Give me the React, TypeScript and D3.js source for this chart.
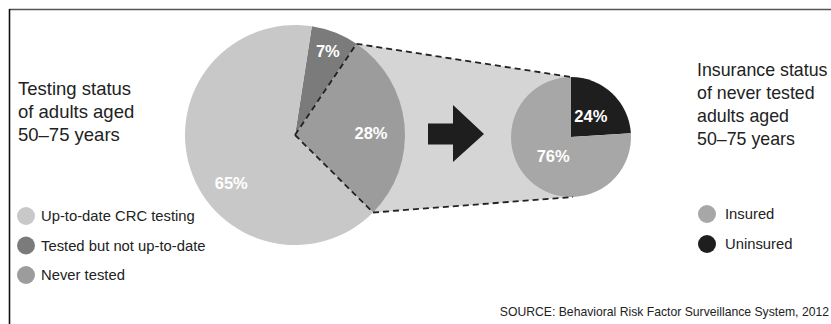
import React from "react";
import * as d3 from "d3";

const testingLabels = ["Tested but not up-to-date", "Never tested", "Up-to-date CRC testing"];
const testingValues = [7, 28, 65];
const testingColors = ["#7b7b7b", "#9c9c9c", "#c8c8c8"];
const testingLegendOrder = ["Up-to-date CRC testing", "Tested but not up-to-date", "Never tested"];

const insuranceLabels = ["Uninsured", "Insured"];
const insuranceValues = [24, 76];
const insuranceColors = ["#1e1e1e", "#a7a7a7"];
const insuranceLegendOrder = ["Insured", "Uninsured"];

const leftTitle = ["Testing status", "of adults aged", "50–75 years"];
const rightTitle = ["Insurance status", "of never tested", "adults aged", "50–75 years"];
const sourceText = "SOURCE: Behavioral Risk Factor Surveillance System, 2012";

const FONT = "'Liberation Sans', Arial, sans-serif";

export default function App() {
  const W = 831, H = 324;
  const deg = Math.PI / 180;

  // Big pie
  const bc = { x: 295, y: 135 };
  const bR = 110;
  const bigPie = d3.pie<number>().sort(null).startAngle(8.8 * deg).endAngle(8.8 * deg + 2 * Math.PI);
  const bigArcs = bigPie(testingValues);
  const bigArc = d3.arc<d3.PieArcDatum<number>>().innerRadius(0).outerRadius(bR);
  const bigLabelR = [90, 76, 80];
  const bigLabelShift = [0, 4, -19];

  // Small pie
  const sc = { x: 571, y: 137 };
  const sR = 60;
  const smallPie = d3.pie<number>().sort(null);
  const smallArcs = smallPie(insuranceValues);
  const smallArc = d3.arc<d3.PieArcDatum<number>>().innerRadius(0).outerRadius(sR);
  const smallLabelR = [29, 26];

  // Connector points from the "Never tested" slice
  const never = bigArcs[1];
  const pt = (c: { x: number; y: number }, r: number, a: number) => [c.x + r * Math.sin(a), c.y - r * Math.cos(a)];
  const pTop = pt(bc, bR, never.startAngle);
  const pBot = pt(bc, bR, never.endAngle);
  const sTop = [sc.x, sc.y - sR];
  const sBot = [sc.x + 2, sc.y + sR];
  const poly = [[bc.x, bc.y], pTop, sTop, sBot, pBot];

  const dash = "6,4";

  // Arrow
  const ax = 428, ay = 134;
  const arrowPath = `M${ax},${ay - 10.5} L${ax + 25},${ay - 10.5} L${ax + 25},${ay - 29} L${ax + 56},${ay} L${ax + 25},${ay + 28} L${ax + 25},${ay + 10.5} L${ax},${ay + 10.5} Z`;

  return (
    <svg width={W} height={H} style={{ position: "absolute", left: 0, top: 0, background: "#fff" }} fontFamily={FONT}>
      <rect x={0} y={0} width={W} height={H} fill="#fff" />
      {/* frame */}
      <line x1={9} y1={9.5} x2={W} y2={9.5} stroke="#555" strokeWidth={1.6} />
      <line x1={9.5} y1={9} x2={9.5} y2={H} stroke="#111" strokeWidth={1.6} />

      {/* connector */}
      <polygon points={poly.map((p) => p.join(",")).join(" ")} fill="#d5d5d5" />

      {/* big pie */}
      <g transform={`translate(${bc.x},${bc.y})`}>
        {bigArcs.map((a, i) => (
          <path key={i} d={bigArc(a) || ""} fill={testingColors[i]} />
        ))}
      </g>

      {/* small pie */}
      <g transform={`translate(${sc.x},${sc.y})`}>
        {smallArcs.map((a, i) => (
          <path key={i} d={smallArc(a) || ""} fill={insuranceColors[i]} />
        ))}
      </g>

      {/* dashed lines */}
      <g stroke="#222" strokeWidth={1.8} strokeDasharray={dash} fill="none">
        <line x1={bc.x} y1={bc.y} x2={pTop[0]} y2={pTop[1]} />
        <line x1={bc.x} y1={bc.y} x2={pBot[0]} y2={pBot[1]} />
        <line x1={pTop[0]} y1={pTop[1]} x2={sTop[0]} y2={sTop[1]} />
        <line x1={pBot[0]} y1={pBot[1]} x2={sBot[0]} y2={sBot[1]} />
      </g>

      {/* arrow */}
      <path d={arrowPath} fill="#1e1e1e" />

      {/* big pie labels */}
      {bigArcs.map((a, i) => {
        const mid = (a.startAngle + a.endAngle) / 2 + bigLabelShift[i] * deg;
        const [x, y] = pt(bc, bigLabelR[i], mid);
        return (
          <text key={i} x={x} y={y} textAnchor="middle" dominantBaseline="central" fill="#fff" fontWeight="bold" fontSize={16.5}>
            {testingValues[i]}%
          </text>
        );
      })}
      {smallArcs.map((a, i) => {
        const mid = (a.startAngle + a.endAngle) / 2;
        const [x, y] = pt(sc, smallLabelR[i], mid);
        return (
          <text key={i} x={x} y={y} textAnchor="middle" dominantBaseline="central" fill="#fff" fontWeight="bold" fontSize={16.5}>
            {insuranceValues[i]}%
          </text>
        );
      })}

      {/* titles */}
      {leftTitle.map((t, i) => (
        <text key={i} x={18} y={88 + i * 23} dominantBaseline="central" fontSize={18.5} fill="#222">{t}</text>
      ))}
      {rightTitle.map((t, i) => (
        <text key={i} x={697} y={70 + i * 23} dominantBaseline="central" fontSize={17.8} fill="#222">{t}</text>
      ))}

      {/* legends */}
      {testingLegendOrder.map((name, i) => (
        <g key={name}>
          <circle cx={26} cy={216 + i * 29.5} r={9} fill={testingColors[testingLabels.indexOf(name)]} />
          <text x={41} y={216 + i * 29.5} dominantBaseline="central" fontSize={14.8} fill="#222">{name}</text>
        </g>
      ))}
      {insuranceLegendOrder.map((name, i) => (
        <g key={name}>
          <circle cx={707} cy={214 + i * 30} r={9} fill={insuranceColors[insuranceLabels.indexOf(name)]} />
          <text x={725} y={214 + i * 30} dominantBaseline="central" fontSize={14.8} fill="#222">{name}</text>
        </g>
      ))}

      {/* source */}
      <text x={829} y={312} textAnchor="end" dominantBaseline="central" fontSize={12.2} fill="#222">{sourceText}</text>
    </svg>
  );
}
